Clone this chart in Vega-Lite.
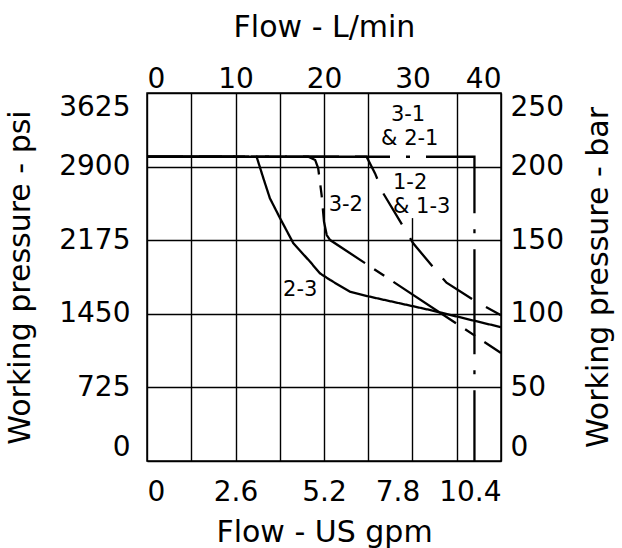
{
  "$schema": "https://vega.github.io/schema/vega-lite/v6.json",
  "width": 354,
  "height": 368,
  "autosize": {"type": "none"},
  "padding": {"left": 147, "top": 93, "right": 121, "bottom": 87},
  "background": "white",
  "config": {
    "view": {"stroke": "black", "strokeWidth": 1.5},
    "font": "DejaVu Sans",
    "axis": {
      "labelFont": "DejaVu Sans", "titleFont": "DejaVu Sans",
      "labelFontSize": 28, "titleFontSize": 30, "titleFontWeight": "normal",
      "labelColor": "black", "titleColor": "black",
      "domain": false, "ticks": false,
      "gridColor": "black", "gridWidth": 1.4, "gridOpacity": 1,
      "labelOverlap": false, "labelBound": false
    }
  },
  "datasets": {
    "curves": [
      {"series": "2-3", "i": 0, "gpm": 0, "bar": 206.7},
      {"series": "2-3", "i": 1, "gpm": 3.22, "bar": 206.7},
      {"series": "2-3", "i": 2, "gpm": 3.42, "bar": 192.0},
      {"series": "2-3", "i": 3, "gpm": 3.61, "bar": 178.5},
      {"series": "2-3", "i": 4, "gpm": 3.91, "bar": 164.9},
      {"series": "2-3", "i": 5, "gpm": 4.30, "bar": 147.9},
      {"series": "2-3", "i": 6, "gpm": 4.79, "bar": 135.4},
      {"series": "2-3", "i": 7, "gpm": 5.08, "bar": 127.5},
      {"series": "2-3", "i": 8, "gpm": 5.38, "bar": 123.0},
      {"series": "2-3", "i": 9, "gpm": 5.96, "bar": 115.0},
      {"series": "2-3", "i": 10, "gpm": 6.55, "bar": 111.6},
      {"series": "2-3", "i": 11, "gpm": 7.43, "bar": 107.1},
      {"series": "2-3", "i": 12, "gpm": 8.31, "bar": 102.6},
      {"series": "2-3", "i": 13, "gpm": 10.4, "bar": 90.9},
      {"series": "3-2", "i": 0, "gpm": 0, "bar": 206.7},
      {"series": "3-2", "i": 1, "gpm": 4.74, "bar": 206.7},
      {"series": "3-2", "i": 2, "gpm": 4.94, "bar": 204.5},
      {"series": "3-2", "i": 3, "gpm": 5.03, "bar": 198.8},
      {"series": "3-2", "i": 4, "gpm": 5.13, "bar": 180.7},
      {"series": "3-2", "i": 5, "gpm": 5.20, "bar": 162.6},
      {"series": "3-2", "i": 6, "gpm": 5.28, "bar": 153.5},
      {"series": "3-2", "i": 7, "gpm": 5.38, "bar": 150.1},
      {"series": "3-2", "i": 8, "gpm": 10.4, "bar": 73.4},
      {"series": "1-2 & 1-3", "i": 0, "gpm": 0, "bar": 206.7},
      {"series": "1-2 & 1-3", "i": 1, "gpm": 6.45, "bar": 206.7},
      {"series": "1-2 & 1-3", "i": 2, "gpm": 6.70, "bar": 195.4},
      {"series": "1-2 & 1-3", "i": 3, "gpm": 6.94, "bar": 181.9},
      {"series": "1-2 & 1-3", "i": 4, "gpm": 7.53, "bar": 159.2},
      {"series": "1-2 & 1-3", "i": 5, "gpm": 7.82, "bar": 147.9},
      {"series": "1-2 & 1-3", "i": 6, "gpm": 8.46, "bar": 130.2},
      {"series": "1-2 & 1-3", "i": 7, "gpm": 8.80, "bar": 121.1},
      {"series": "1-2 & 1-3", "i": 8, "gpm": 9.59, "bar": 109.4},
      {"series": "1-2 & 1-3", "i": 9, "gpm": 10.4, "bar": 99.0}
    ],
    "relief": [
      {"series": "3-1 & 2-1", "i": 0, "gpm": 0, "bar": 206.7},
      {"series": "3-1 & 2-1", "i": 1, "gpm": 9.62, "bar": 206.7},
      {"series": "3-1 & 2-1", "i": 2, "gpm": 9.62, "bar": 0}
    ],
    "gridline": [{"gpm": 7.8, "bar0": 0, "bar1": 165}],
    "labels": [
      {"label": "3-1", "gpm": 7.67, "bar": 235.0},
      {"label": "& 2-1", "gpm": 7.72, "bar": 219.0},
      {"label": "1-2", "gpm": 7.73, "bar": 188.6},
      {"label": "& 1-3", "gpm": 8.07, "bar": 172.5},
      {"label": "3-2", "gpm": 5.84, "bar": 173.9},
      {"label": "2-3", "gpm": 4.50, "bar": 116.2}
    ]
  },
  "layer": [
    {
      "data": {"name": "gridline"},
      "mark": {"type": "rule", "color": "black", "strokeWidth": 1.4},
      "encoding": {
        "x": {
          "field": "gpm", "type": "quantitative",
          "scale": {"domain": [0, 10.4], "nice": false, "zero": false},
          "axis": {
            "orient": "bottom", "title": "Flow - US gpm",
            "values": [0, 1.3, 2.6, 3.9, 5.2, 6.5, 7.8, 9.1, 10.4],
            "labelExpr": "indexof([0, 2.6, 5.2, 7.8, 10.4], datum.value) >= 0 ? '' + datum.value : ''",
            "labelOffset": {"condition": {"test": "datum.value == 7.8", "value": -15}, "value": 0},
            "grid": true,
            "gridOpacity": {"condition": {"test": "datum.value == 7.8", "value": 0}, "value": 1},
            "labelPadding": 17, "titlePadding": 11, "labelFlush": true
          }
        },
        "y": {
          "field": "bar0", "type": "quantitative",
          "scale": {"domain": [0, 250], "nice": false},
          "axis": {
            "orient": "left", "title": "Working pressure - psi",
            "values": [0, 50, 100, 150, 200, 250],
            "labelExpr": "'' + round(datum.value * 14.5)",
            "grid": true, "labelPadding": 17, "titlePadding": 23, "labelFlush": true
          }
        },
        "y2": {"field": "bar1"}
      }
    },
    {
      "data": {"name": "curves"},
      "mark": {"type": "line", "color": "black", "strokeWidth": 2.3, "strokeCap": "butt"},
      "encoding": {
        "x": {
          "field": "gpm", "type": "quantitative",
          "scale": {"domain": [0, 10.4], "nice": false, "zero": false},
          "axis": {
            "orient": "top", "title": "Flow - L/min",
            "values": [0, 2.6, 5.2, 7.8, 10.4],
            "labelExpr": "'' + round(datum.value * 0.3785411) * 10",
            "grid": false, "labelPadding": 0, "titlePadding": 23, "labelFlush": true
          }
        },
        "y": {
          "field": "bar", "type": "quantitative",
          "scale": {"domain": [0, 250], "nice": false},
          "axis": {
            "orient": "right", "title": "Working pressure - bar",
            "titleAngle": -90, "titleBaseline": "top",
            "values": [0, 50, 100, 150, 200, 250],
            "format": "d",
            "grid": false, "labelPadding": 9, "titlePadding": 20, "labelFlush": true
          }
        },
        "order": {"field": "i", "type": "quantitative"},
        "strokeDash": {
          "field": "series", "type": "nominal",
          "scale": {
            "domain": ["2-3", "3-2", "1-2 & 1-3"],
            "range": [[1, 0], [75, 11, 12, 11], [36, 16]]
          },
          "legend": null
        }
      }
    },
    {
      "data": {"name": "relief"},
      "mark": {"type": "line", "color": "black", "strokeWidth": 2.3, "strokeCap": "butt", "strokeDash": [105, 16, 4, 16], "strokeDashOffset": 3},
      "encoding": {
        "x": {"field": "gpm", "type": "quantitative", "scale": {"domain": [0, 10.4], "nice": false, "zero": false}, "axis": null},
        "y": {"field": "bar", "type": "quantitative", "scale": {"domain": [0, 250], "nice": false}, "axis": null},
        "order": {"field": "i", "type": "quantitative"}
      }
    },
    {
      "data": {"name": "labels"},
      "mark": {"type": "text", "font": "DejaVu Sans", "fontSize": 21, "color": "black", "baseline": "middle", "align": "center"},
      "encoding": {
        "x": {"field": "gpm", "type": "quantitative", "scale": {"domain": [0, 10.4], "nice": false, "zero": false}, "axis": null},
        "y": {"field": "bar", "type": "quantitative", "scale": {"domain": [0, 250], "nice": false}, "axis": null},
        "text": {"field": "label", "type": "nominal"}
      }
    }
  ],
  "resolve": {"axis": {"x": "independent", "y": "independent"}}
}
